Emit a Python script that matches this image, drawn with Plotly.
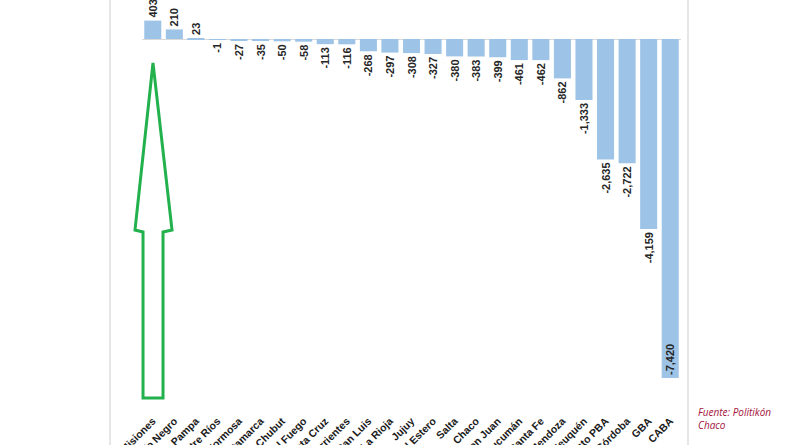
import plotly.graph_objects as go

provincias = ["Misiones", "Río Negro", "La Pampa", "Entre Ríos", "Formosa", "Catamarca",
              "Chubut", "Tierra del Fuego", "Santa Cruz", "Corrientes", "San Luis", "La Rioja",
              "Jujuy", "Santiago del Estero", "Salta", "Chaco", "San Juan", "Tucumán",
              "Santa Fe", "Mendoza", "Neuquén", "Resto PBA", "Córdoba", "GBA", "CABA"]
valores = [403, 210, 23, -1, -27, -35, -50, -58, -113, -116, -268, -297, -308, -327,
           -380, -383, -399, -461, -462, -862, -1333, -2635, -2722, -4159, -7420]

etiquetas = [f"{v:,}" for v in valores]
posiciones = ["inside" if v == min(valores) else "outside" for v in valores]

W, H = 800, 445
L, R, T, B = 142, 681, 0, 385  # plot area in pixels


def px(x):
    return (x - L) / (R - L)


def py(y):
    return (B - y) / (B - T)


lbl_font = dict(family="Arial, Liberation Sans", size=11, color="#262626", weight="bold")

fig = go.Figure(go.Bar(
    x=provincias, y=valores,
    marker=dict(color="#9DC3E6", line=dict(width=0)),
    text=etiquetas, textposition=posiciones, insidetextanchor="end",
    textangle=-90, cliponaxis=True, constraintext="none",
    textfont=lbl_font, insidetextfont=lbl_font, outsidetextfont=lbl_font,
))

# green outlined arrow pointing to Misiones
arrow_pts = [(153, 63), (172, 230), (163, 232), (163, 398), (143, 398), (143, 232), (135, 230)]
path = "M " + " L ".join(f"{px(x):.4f},{py(y):.4f}" for x, y in arrow_pts) + " Z"

shapes = [
    dict(type="path", xref="paper", yref="paper", path=path,
         line=dict(color="#22B14C", width=3), fillcolor="rgba(0,0,0,0)"),
    dict(type="line", xref="paper", yref="paper", x0=px(110), x1=px(110), y0=py(0), y1=py(445),
         line=dict(color="#E6E6E6", width=2)),
    dict(type="line", xref="paper", yref="paper", x0=px(688), x1=px(688), y0=py(0), y1=py(445),
         line=dict(color="#E6E6E6", width=2)),
]

fig.update_layout(
    width=W, height=H,
    margin=dict(l=L, r=W - R, t=T, b=H - B, pad=0, autoexpand=False),
    paper_bgcolor="white", plot_bgcolor="white",
    bargap=0.21, showlegend=False,
    shapes=shapes,
    annotations=[dict(xref="paper", yref="paper", x=px(696), y=py(403),
                      xanchor="left", yanchor="top", align="left", showarrow=False,
                      text="<i>Fuente: Politikón<br>Chaco</i>",
                      font=dict(family="Open Sans, Liberation Sans", size=10, color="#A5133B"))],
    xaxis=dict(showline=False, ticks="", tickangle=-45, ticklabelstandoff=27, automargin=False,
               tickfont=dict(family="Arial, Liberation Sans", size=10.5, color="#1a1a1a", weight="bold")),
    yaxis=dict(range=[-7573, 854], showticklabels=False, showgrid=False, automargin=False,
               zeroline=True, zerolinecolor="#D9D9D9", zerolinewidth=1, fixedrange=True),
)

fig.write_html("out.html", config={"displayModeBar": False},
               post_script="document.body.style.margin='0';document.body.style.overflow='hidden';")
